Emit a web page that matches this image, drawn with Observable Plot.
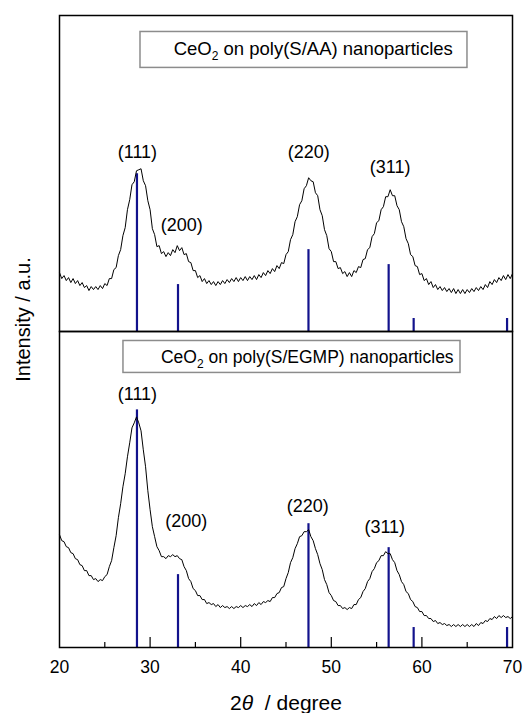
<!DOCTYPE html>
<html><head><meta charset="utf-8">
<script src="https://cdn.jsdelivr.net/npm/d3@7"></script>
<script src="https://cdn.jsdelivr.net/npm/@observablehq/plot@0.6"></script>
<style>body{margin:0;background:#fff;}</style>
</head><body><div id="chart"></div>
<script>
// 2θ grid of the digitised patterns
const twoThetaStart = 20, twoThetaStep = 0.25;

// CeO2 on poly(S/AA) nanoparticles (a.u.)
const topIntensity = [
  59,53,56,51,54,49,53,48,51,46,49,44,46,41,45,42,45,42,46,43,
  48,46,53,53,62,64,76,82,96,104,122,132,147,150,161,162,163,151,146,131,
  122,103,97,85,86,78,80,75,79,76,82,79,86,81,84,77,78,70,69,61,
  61,54,56,50,53,48,51,47,50,46,50,47,51,48,52,49,53,50,54,50,
  54,51,55,51,55,52,56,52,57,54,59,56,61,58,63,60,66,63,69,68,
  77,80,92,97,110,115,127,131,143,146,154,151,150,139,136,122,116,102,96,83,
  80,70,70,63,64,58,60,55,59,55,61,59,65,64,72,73,82,84,95,98,
  109,111,122,125,135,135,142,136,136,126,122,110,105,93,88,77,75,66,65,57,
  58,51,53,47,50,44,47,42,45,41,44,40,43,39,43,38,42,38,42,38,
  42,39,43,40,44,41,45,42,47,44,50,47,52,49,54,51,56,52,57,53,
  58
];

// CeO2 on poly(S/EGMP) nanoparticles (a.u.)
const bottomIntensity = [
  113,107,106,101,100,95,94,89,88,83,82,77,77,72,72,68,69,66,68,67,
  71,73,81,87,100,112,130,144,161,174,191,205,220,225,231,225,217,198,181,157,
  138,121,111,101,97,91,91,89,92,91,93,91,92,89,88,81,77,69,66,59,
  57,52,52,48,48,44,45,43,44,41,43,40,42,40,41,39,41,39,41,40,
  42,40,42,41,43,41,44,42,45,43,46,45,47,46,50,50,54,55,60,61,
  69,75,85,90,99,104,111,112,116,116,118,111,107,99,93,84,78,68,63,55,
  52,47,46,42,42,39,40,38,40,39,43,43,48,50,56,59,66,69,76,79,
  85,87,92,92,96,94,94,88,85,77,73,66,63,56,54,48,46,41,40,36,
  36,32,32,29,29,26,27,24,25,23,24,22,23,21,23,21,23,21,23,21,
  23,21,23,21,24,22,25,24,27,26,29,28,31,29,32,30,32,30,31,29,
  31
];

// reference CeO2 reflections
const refPositions = [28.55, 33.08, 47.48, 56.33, 59.09, 69.40];
const refTop = [158, 47, 82, 67, 13, 13];
const refBottom = [238, 73, 124, 100, 20, 20];

// peak labels
const peakNames = ["(111)", "(200)", "(220)", "(311)"];
const peakXTop = [28.6, 33.5, 47.5, 56.5];
const peakYTop = [180, 106, 180, 165];
const peakXBottom = [28.6, 34.0, 47.4, 55.9];
const peakYBottom = [254, 126, 141, 120];

// legend boxes
const panels = ["top", "bottom"];
const boxTitles = ["CeO2 on poly(S/AA) nanoparticles", "CeO2 on poly(S/EGMP) nanoparticles"];
const boxX1 = [28.94, 27.06], boxX2 = [65.03, 64.26];
const boxY1 = [264, 275], boxY2 = [300, 307];
const boxTextX = [32.6, 31.2], boxTextY = [283, 291];
const boxFontSize = [18.5, 17.5];

// axis ticks
const xTickLabels = [20, 30, 40, 50, 60, 70];
const xMajorTicks = [30, 40, 50, 60];
const xMinorTicks = [25, 35, 45, 55, 65];

const series = [
  ...topIntensity.map((v, i) => ({panel: "top", twoTheta: twoThetaStart + i * twoThetaStep, intensity: v})),
  ...bottomIntensity.map((v, i) => ({panel: "bottom", twoTheta: twoThetaStart + i * twoThetaStep, intensity: v}))
];
const sticks = [
  ...refPositions.map((p, i) => ({panel: "top", twoTheta: p, h: refTop[i]})),
  ...refPositions.map((p, i) => ({panel: "bottom", twoTheta: p, h: refBottom[i]}))
];
const peaks = [
  ...peakNames.map((n, i) => ({panel: "top", name: n, x: peakXTop[i], y: peakYTop[i]})),
  ...peakNames.map((n, i) => ({panel: "bottom", name: n, x: peakXBottom[i], y: peakYBottom[i]}))
];
const boxes = panels.map((p, i) => ({panel: p, title: boxTitles[i], x1: boxX1[i], x2: boxX2[i], y1: boxY1[i], y2: boxY2[i], tx: boxTextX[i], ty: boxTextY[i]}));
const ticks = [
  ...xMajorTicks.map(t => ({panel: "bottom", t, len: 10})),
  ...xMinorTicks.map(t => ({panel: "bottom", t, len: 5}))
];

const chart = Plot.plot({
  width: 523, height: 713,
  marginLeft: 59, marginRight: 11, marginTop: 14, marginBottom: 66,
  style: {fontFamily: "'Liberation Sans', Arial, sans-serif", background: "white", color: "black"},
  x: {domain: [20, 70]},
  y: {domain: [0, 316.5], axis: null},
  fy: {domain: panels, padding: 0, axis: null},
  marks: [
    Plot.ruleX(sticks, {x: "twoTheta", y1: 0, y2: "h", fy: "panel", stroke: "#12128c", strokeWidth: 2.2}),
    Plot.line(series, {x: "twoTheta", y: "intensity", fy: "panel", z: "panel", stroke: "black", strokeWidth: 1}),
    Plot.rect(boxes, {x1: "x1", x2: "x2", y1: "y1", y2: "y2", fy: "panel", fill: "white", stroke: "#8c8c8c", strokeWidth: 1.5}),
    Plot.text(boxes.slice(0, 1), {x: "tx", y: "ty", text: "title", fy: "panel", textAnchor: "start", fontSize: boxFontSize[0], fill: "black"}),
    Plot.text(boxes.slice(1), {x: "tx", y: "ty", text: "title", fy: "panel", textAnchor: "start", fontSize: boxFontSize[1], fill: "black"}),
    Plot.text(peaks, {x: "x", y: "y", text: "name", fy: "panel", fontSize: 18, fill: "black"}),
    Plot.ruleX(ticks, {x: "t", y1: 0, y2: "len", fy: "panel", stroke: "black", strokeWidth: 1.2}),
    Plot.axisX({ticks: xTickLabels, tickSize: 0, tickPadding: 13, fontSize: 17.5, label: null}),
    Plot.frame({stroke: "black", strokeWidth: 1.5}),
    Plot.text([{panel: "top"}], {fy: "panel", frameAnchor: "bottom-left", text: () => "Intensity / a.u.", rotate: -90, textAnchor: "middle", lineAnchor: "middle", dx: -36, dy: -12, fontSize: 20, fill: "black"}),
    Plot.text([{panel: "bottom"}], {fy: "panel", frameAnchor: "bottom", text: () => "2θ / degree", textAnchor: "middle", lineAnchor: "middle", dy: 56, fontSize: 21, fill: "black"})
  ]
});
document.getElementById("chart").appendChild(chart);

// rich text: subscript 2 in CeO2, italic theta
const NS = "http://www.w3.org/2000/svg";
function span(txt, attrs) {
  const s = document.createElementNS(NS, "tspan");
  s.textContent = txt;
  for (const k in attrs) s.setAttribute(k, attrs[k]);
  return s;
}
chart.querySelectorAll("text").forEach(t => {
  const s = t.textContent;
  if (s.startsWith("CeO2")) {
    t.textContent = "";
    t.appendChild(span("CeO", {}));
    t.appendChild(span("2", {dy: 5, "font-size": 12}));
    t.appendChild(span(s.slice(4), {dy: -5}));
  } else if (s === "2θ / degree") {
    t.textContent = "";
    t.appendChild(span("2", {}));
    t.appendChild(span("θ", {"font-style": "italic"}));
    t.appendChild(span("  / degree", {"xml:space": "preserve"}));
  }
});
</script>
</body></html>
